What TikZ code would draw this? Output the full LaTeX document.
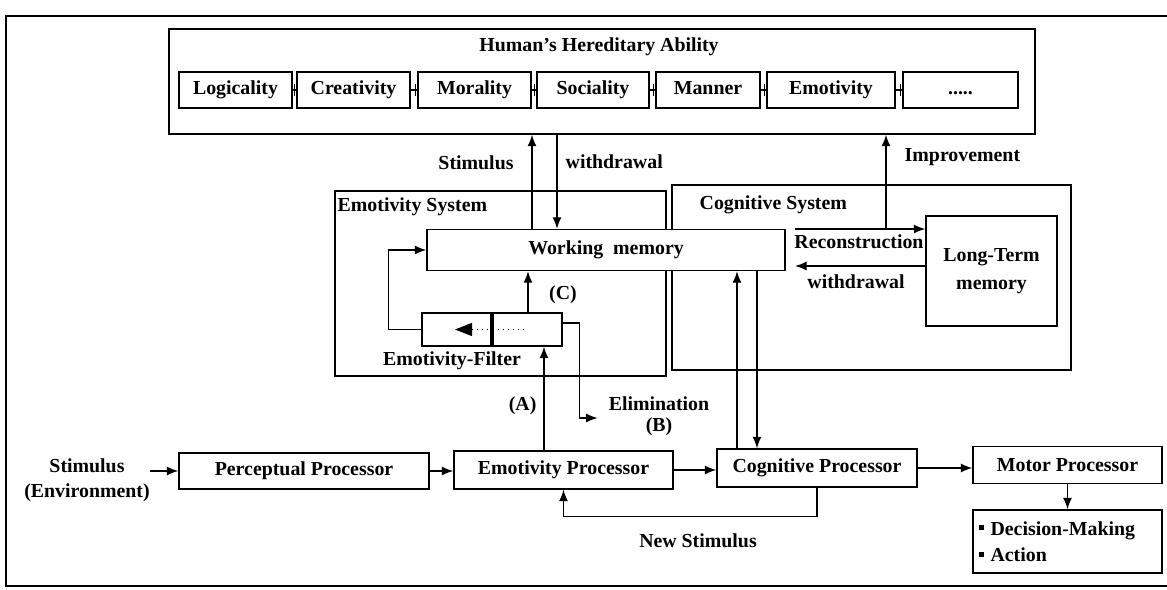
\documentclass[tikz,border=0pt]{standalone}
\usepackage{fontspec}
\setmainfont{Liberation Serif}
\usetikzlibrary{arrows.meta}
\begin{document}
\begin{tikzpicture}[x=0.02cm, y=-0.02cm, >={Latex[length=2.3mm,width=1.8mm]}, line width=0.8pt,
        font=\fontsize{11.3}{12}\selectfont\bfseries,
        box/.style={draw, inner sep=0pt, align=center},
        lbl/.style={inner sep=0pt, align=center}]
    \def\px{0.02cm}
    \def\fivedots{.....}
    \useasboundingbox (0,0) rectangle (1167,589);
    \draw (1167,16) -- (6,16) -- (6,586) -- (1167,586);
    % hereditary ability
    \node[box, minimum width=866*\px, minimum height=105*\px] (hered) at (602,81.5) {};
    \node[lbl] (heredT) at (599,47) {Human's Hereditary Ability};
    \foreach \n/\c/\w/\t in {logi/235.5/113/Logicality, crea/353.5/113/Creativity, mora/474.5/113/Morality,
            soci/593/112/Sociality, mann/708/104/Manner, emot/831/128/Emotivity, more/960.5/115/\fivedots}
        \node[box, text height=0.7em, text depth=0.22em, minimum width=\w*\px, minimum height=36*\px] (\n) at (\c,90) {\t};
    \foreach \a/\b in {logi/crea, crea/mora, mora/soci, soci/mann, mann/emot, emot/more}
        \draw (\a.east) -- (\b.west) ([xshift=-2*\px]\b.west) ++(0,-6) -- ++(0,12);
    % systems
    \node[box, minimum width=331*\px, minimum height=185*\px] (esys) at (500.5,283.5) {};
    \node[lbl, anchor=west] (esysT) at (337,207) {Emotivity System};
    \node[box, minimum width=399*\px, minimum height=185*\px] (csys) at (871.5,277.5) {};
    \node[lbl, anchor=west] (csysT) at (699,205) {Cognitive System};
    \node[box, fill=white, minimum width=358*\px, minimum height=41*\px] (wm) at (606,250) {Working\ \ memory};
    \node[box, minimum width=140*\px, minimum height=33*\px] (filter) at (492,329.5) {};
    \node[lbl] (filterT) at (452,361) {Emotivity-Filter};
    \node[box, minimum width=131*\px, minimum height=110*\px] (ltm) at (991.5,271) {Long-Term\\[4pt]memory};
    \draw[line width=2pt] (filter.north) -- (filter.south);
    \draw[dotted, -{Triangle[length=3.4mm,width=2.6mm]}] ([xshift=-4*\px]filter.center) -- ([xshift=-37*\px]filter.center);
    \draw[dotted] ([xshift=6*\px]filter.center) -- ([xshift=34*\px]filter.center);
    % processors
    \node[lbl] (env) at (87,480) {Stimulus\\[2pt](Environment)};
    \node[box, minimum width=250*\px, minimum height=36*\px] (pp) at (304,471) {Perceptual Processor};
    \node[box, minimum width=219*\px, minimum height=38*\px] (ep) at (563.5,470) {Emotivity Processor};
    \node[box, minimum width=200*\px, minimum height=38*\px] (cp) at (817,468) {Cognitive Processor};
    \node[box, minimum width=189*\px, minimum height=37*\px] (motor) at (1067.5,465) {Motor Processor};
    \node[draw, text width=177*\px, inner sep=6*\px, minimum height=63*\px, align=left] (dec) at (1067.5,541.5)
        {\rule[0.25em]{0.25em}{0.25em} Decision-Making\\[3pt]\rule[0.25em]{0.25em}{0.25em} Action};
    \draw[->] (env.east|-pp) -- (pp);
    \draw[->] (pp) -- (pp-|ep.west);
    \draw[->] (ep) -- (ep-|cp.west);
    \draw[->] (cp.east) -- (cp.east-|motor.west);
    \draw[->] (motor) -- (dec);
    \draw[->] (cp.south) -- ++(0,29) -| (ep.south);
    \node[lbl] (newS) at (698,541) {New Stimulus};
    % emotivity system paths
    \draw[->] ([xshift=-19.5*\px]ep.north) -- ([xshift=-19.5*\px]ep.north|-filter.south) node[pos=.43, left=1*\px] {(A)};
    \draw[->] ([yshift=6.5*\px]filter.east) -- ++(17,0) -- ++(0,95) -- ++(18,0) coordinate (elim);
    \node[lbl] (elimT) at (659,416) {Elimination\\(B)};
    \draw[->] ([xshift=36*\px]filter.north) -- ([xshift=36*\px]filter.north|-wm.south);
    \node[lbl] (lc) at (563,295) {(C)};
    \draw[->] (filter.west) -- ++(-33,0) |- (wm.west);
    % to and from hereditary ability
    \draw[->] ([xshift=-74*\px]wm.north) -- ([xshift=-74*\px]wm.north|-hered.south);
    \draw[<-] ([xshift=-49*\px]wm.north) -- ([xshift=-49*\px]wm.north|-hered.south);
    \node[lbl] (stimT) at (476,163) {Stimulus};
    \node[lbl, anchor=west] (wdT) at (565,162) {withdrawal};
    \coordinate (rc) at (795,229);
    \coordinate (imp) at (886,229);
    \draw[->] (rc) -- (rc-|ltm.west);
    \draw[->] (imp) -- (imp|-hered.south);
    \node[lbl, anchor=west] (impT) at (904,157) {Improvement};
    \node[lbl] (recT) at (859,242) {Reconstruction};
    \draw[->] ([yshift=5*\px]ltm.west) -- ([yshift=5*\px]ltm.west-|rc);
    \node[lbl] (wd2T) at (856,282) {withdrawal};
    % working memory and cognitive processor
    \draw[->] ([xshift=-80*\px]cp.north) -- ([xshift=-80*\px]cp.north|-wm.south);
    \draw[<-] ([xshift=-60*\px]cp.north) -- ([xshift=-60*\px]cp.north|-wm.south);
\end{tikzpicture}
\end{document}
